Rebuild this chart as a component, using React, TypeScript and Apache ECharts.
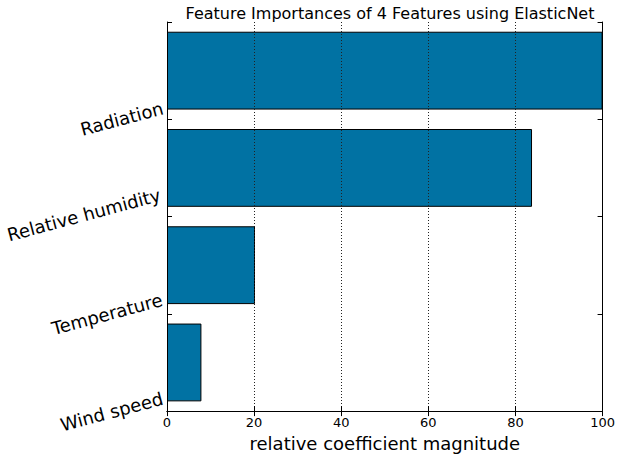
import React, { useEffect, useRef } from "react";
import * as echarts from "echarts";

const titleText = "Feature Importances of 4 Features using ElasticNet";
const xAxisName = "relative coefficient magnitude";
// top to bottom
const features = ["Radiation", "Relative humidity", "Temperature", "Wind speed"];
const importances = [100, 83.8, 20.2, 7.9];
const xTicks = [0, 20, 40, 60, 80, 100];

const FONT = "DejaVu Sans";
const BAR_COLOR = "#0172A3";
const LABEL_SIZE = 18;

export default function App() {
  const ref = useRef<HTMLDivElement>(null);
  useEffect(() => {
    if (!ref.current) return;
    const chart = echarts.init(ref.current, null, { renderer: "svg" });
    const n = features.length;
    const rad = (15 * Math.PI) / 180;
    // padding that lifts each rotated label so its bounding box is centred on the tick
    const rich: Record<string, any> = {};
    features.forEach((f, i) => {
      const w = f.length * 0.56 * LABEL_SIZE;
      rich["r" + i] = {
        fontSize: LABEL_SIZE,
        fontFamily: FONT,
        color: "#000",
        padding: [0, 0, Math.round((w * Math.sin(rad)) / Math.cos(rad)), 0],
      };
    });
    const option: any = {
      animation: false,
      textStyle: { fontFamily: FONT },
      title: {
        text: titleText,
        left: 385,
        textAlign: "center",
        top: 0,
        textStyle: { fontFamily: FONT, fontSize: 16, fontWeight: "normal", color: "#000" },
      },
      grid: { left: 167, right: 14, top: 22, bottom: 43.5 },
      xAxis: [
        {
          type: "value",
          position: "bottom",
          min: xTicks[0],
          max: xTicks[xTicks.length - 1],
          interval: 20,
          z: 5,
          name: xAxisName,
          nameLocation: "middle",
          nameGap: 20,
          nameTextStyle: { fontFamily: FONT, fontSize: 18, color: "#000" },
          axisLine: { show: true, lineStyle: { color: "#000", width: 1 } },
          axisTick: { show: true, inside: true, length: 5, lineStyle: { color: "#000" } },
          axisLabel: { show: true, margin: 5, fontFamily: FONT, fontSize: 13, color: "#000" },
          splitLine: { show: true, lineStyle: { color: "#222", type: [1, 2], width: 1 } },
        },
        {
          type: "value",
          position: "top",
          min: xTicks[0],
          max: xTicks[xTicks.length - 1],
          interval: 20,
          z: 5,
          axisLine: { show: true, lineStyle: { color: "#000", width: 1 } },
          axisTick: { show: true, inside: true, length: 5, lineStyle: { color: "#000" } },
          axisLabel: { show: false },
          splitLine: { show: false },
        },
      ],
      yAxis: [
        {
          type: "category",
          data: features,
          inverse: true,
          show: false,
        },
        {
          type: "value",
          position: "left",
          min: 0,
          max: n,
          interval: 1,
          z: 5,
          axisLine: { show: true, onZero: false, lineStyle: { color: "#000", width: 1 } },
          axisTick: { show: true, inside: true, length: 5, lineStyle: { color: "#000" } },
          axisLabel: {
            show: true,
            rotate: 15,
            margin: 1,
            formatter: (v: number) => {
              const idx = n - 1 - v;
              if (idx < 0 || idx >= n) return "";
              return `{r${idx}|${features[idx]}}`;
            },
            rich,
          },
          splitLine: { show: false },
        },
        {
          type: "value",
          position: "right",
          min: 0,
          max: n,
          interval: 1,
          z: 5,
          axisLine: { show: true, onZero: false, lineStyle: { color: "#000", width: 1 } },
          axisTick: { show: true, inside: true, length: 5, lineStyle: { color: "#000" } },
          axisLabel: { show: false },
          splitLine: { show: false },
        },
      ],
      series: [
        {
          type: "bar",
          xAxisIndex: 0,
          yAxisIndex: 0,
          data: importances,
          barWidth: "80%",
          itemStyle: { color: BAR_COLOR, borderColor: "#000", borderWidth: 1 },
        },
      ],
    };
    chart.setOption(option);
    return () => chart.dispose();
  }, []);
  return (
    <div
      ref={ref}
      style={{ position: "fixed", left: 0, top: 0, width: 618, height: 457, background: "#fff" }}
    />
  );
}
